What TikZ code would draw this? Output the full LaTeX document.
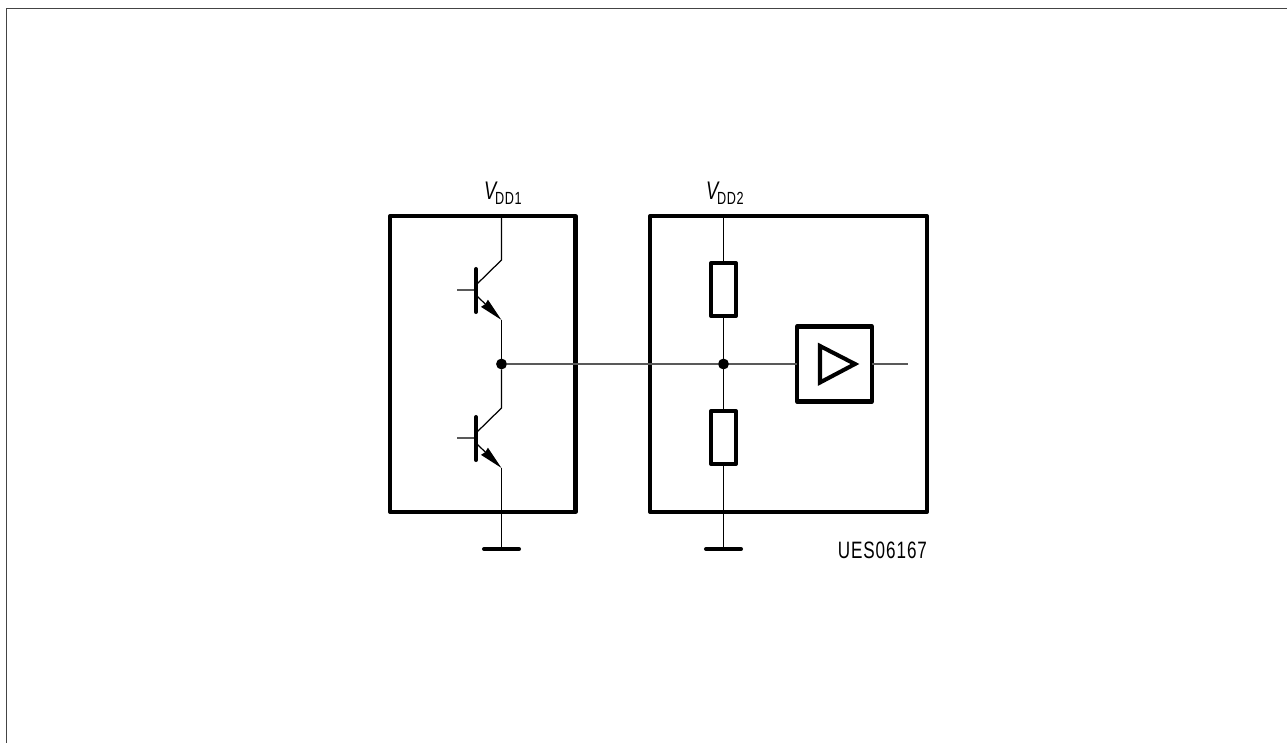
\documentclass[tikz,border=0pt]{standalone}
\usepackage{fontspec}
\setmainfont{Liberation Sans}
\newfontfamily\labelfont[FakeStretch=0.72, LetterSpace=4]{Liberation Sans}
\usetikzlibrary{arrows.meta}
\tikzset{
    wire/.style={line width=0.7pt, draw=black},
    hwire/.style={line width=0.65pt, draw=black!65},
    heavy/.style={line width=2.3pt, draw=black, line cap=round, line join=round},
    block/.style={heavy, rectangle, inner sep=0pt, outer sep=0pt},
    dot/.style={circle, fill=black, inner sep=0pt, minimum size=6.2pt, outer sep=0pt},
    supply/.style={inner sep=0pt, outer sep=0pt, font=\labelfont},
    emit/.style={wire, -{Stealth[length=13.5pt, width=5.5pt, inset=0.6pt]}},
}
\begin{document}
\begin{tikzpicture}[x=0.02cm, y=-0.02cm]
            \useasboundingbox (0,0) rectangle (1287,743);
            \definecolor{frm}{HTML}{444444}
            \coordinate (fa) at (6.5,743);
            \coordinate (fb) at (6.5,8.5);
            \coordinate (fc) at (1287,8.5);
            \draw[line width=0.8pt, draw=frm] (fa) -- (fb) -- (fc);
            \node[block, minimum width=185.5*0.02cm, minimum height=296*0.02cm] (chipa) at (482.75,364) {};
            \node[block, minimum width=277*0.02cm, minimum height=296*0.02cm] (chipb) at (788.5,364) {};
            \node[block, minimum width=24.5*0.02cm, minimum height=53*0.02cm] (resa) at (723.5,289.5) {};
            \node[block, minimum width=24.5*0.02cm, minimum height=53*0.02cm] (resb) at (723.5,437.5) {};
            \node[block, minimum width=75*0.02cm, minimum height=75*0.02cm] (amp) at (834.5,364) {};
            \node[dot] (nodea) at (501.5,364) {};
            \node[dot] (nodeb) at (723.5,364) {};
            % upper transistor
            \coordinate (supa) at (501.5,216);
            \coordinate (ca) at (501.5,260);
            \coordinate (ba) at (476,285);
            \coordinate (ea) at (476,295);
            \coordinate (oa) at (501.5,320);
            \coordinate (bara) at (476,269);
            \coordinate (barb) at (476,312);
            \coordinate (basea) at (457,290);
            \coordinate (basec) at (476,290);
            \draw[wire] (supa) -- (ca) -- (ba);
            \draw[hwire] (basea) -- (basec);
            \draw[heavy] (bara) -- (barb);
            \draw[emit] (ea) -- (oa);
            \draw[wire] (oa) -- (nodea);
            % lower transistor
            \coordinate (cb) at (501.5,408);
            \coordinate (bb) at (476,433);
            \coordinate (eb) at (476,443);
            \coordinate (ob) at (501.5,468);
            \coordinate (barc) at (476,417);
            \coordinate (bard) at (476,460);
            \coordinate (baseb) at (457,438);
            \coordinate (based) at (476,438);
            \draw[wire] (nodea) -- (cb) -- (bb);
            \draw[hwire] (baseb) -- (based);
            \draw[heavy] (barc) -- (bard);
            \draw[emit] (eb) -- (ob);
            % grounds
            \coordinate (gnda) at (501.5,549);
            \coordinate (gala) at (484,549);
            \coordinate (galb) at (519,549);
            \coordinate (gndb) at (723.5,549);
            \coordinate (gbla) at (706,549);
            \coordinate (gblb) at (741,549);
            \draw[wire] (ob) -- (gnda);
            \draw[heavy] (gala) -- (galb);
            \draw[heavy] (gbla) -- (gblb);
            % right block
            \coordinate (supb) at (723.5,216);
            \coordinate (out) at (908,364);
            \draw[wire] (supb) -- (resa.north);
            \draw[wire] (resa.south) -- (nodeb);
            \draw[wire] (nodeb) -- (resb.north);
            \draw[wire] (resb.south) -- (gndb);
            \draw[hwire] (nodea) -- (nodeb);
            \draw[hwire] (nodeb) -- (amp.west);
            \draw[hwire] (amp.east) -- (out);
            \coordinate (tria) at (820,346);
            \coordinate (trib) at (820,382.5);
            \coordinate (tric) at (855,364);
            \draw[heavy, line join=miter] (tria) -- (trib) -- (tric) -- cycle;
            % labels
            \node[supply, font=\labelfont\itshape\fontsize{14.5pt}{15pt}\selectfont, anchor=base west] (vdda) at (484,199) {V};
            \node[supply, font=\labelfont\fontsize{10pt}{10pt}\selectfont, anchor=base west] (ddone) at (495,205) {DD1};
            \node[supply, font=\labelfont\itshape\fontsize{14.5pt}{15pt}\selectfont, anchor=base west] (vddb) at (706,199) {V};
            \node[supply, font=\labelfont\fontsize{10pt}{10pt}\selectfont, anchor=base west] (ddtwo) at (717,205) {DD2};
            \node[supply, font=\labelfont\fontsize{13.5pt}{14pt}\selectfont, anchor=base east] (code) at (927,558) {UES06167};
        \end{tikzpicture}
\end{document}
